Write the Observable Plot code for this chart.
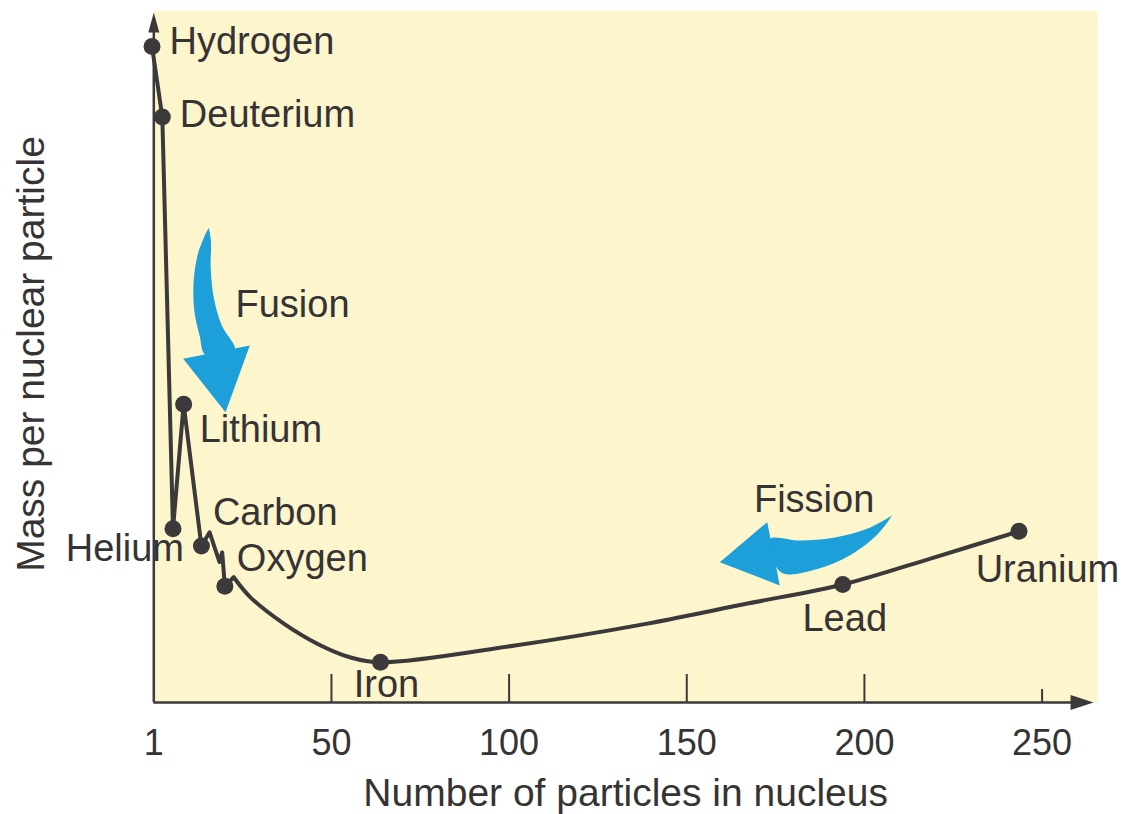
<!DOCTYPE html>
<html>
<head>
<meta charset="utf-8">
<script src="https://cdn.jsdelivr.net/npm/d3@7"></script>
<script src="https://cdn.jsdelivr.net/npm/@observablehq/plot@0.6"></script>
<style>
  html, body { margin: 0; padding: 0; background: #ffffff; }
  #chart svg { display: block; }
</style>
</head>
<body>
<div id="chart"></div>
<script>
// ---------- data ----------
const elementNames   = ["Hydrogen", "Deuterium", "Helium", "Lithium", "Carbon", "Oxygen", "Iron", "Lead", "Uranium"];
const elementA       = [-0.5, 2.4, 5.4, 8.4, 13.4, 20.0, 63.8, 193.9, 243.5];
const elementMass    = [94.8, 84.6, 25.1, 43.1, 22.6, 16.8, 5.8, 17.05, 24.75];

// the jagged light-element part of the curve
const sharpPathA     = [-0.5, 2.4, 5.4, 8.4, 13.4, 15.7, 18.5, 19.25, 20.0, 22.5];
const sharpPathMass  = [94.8, 84.6, 25.1, 43.1, 22.6, 24.6, 20.3, 21.7, 16.8, 18.1];
// the smooth part of the curve, from just past oxygen to uranium
const smoothPathA    = [22.5, 27.2, 36.6, 46.0, 55.4, 63.8, 101.2, 138.9, 167.1, 193.9, 218.6, 243.5];
const smoothPathMass = [18.1, 15.2, 11.4, 8.5, 6.5, 5.8, 8.2, 11.4, 14.3, 17.05, 20.8, 24.75];

const xTicks       = [0, 50, 100, 150, 200, 250];
const xTickLabels  = ["1", "50", "100", "150", "200", "250"];
const xLabel       = "Number of particles in nucleus";
const yLabel       = "Mass per nuclear particle";

const processNames = ["Fusion", "Fission"];
const processA     = [23.0, 168.9];
const processMass  = [55.7, 27.5];

// outlines of the two blue process arrows (data units)
const fusionBody = [[15.48,68.6],[16.1,66.6],[16.0,63.0],[16.9,58.4],[19.1,54.5],[22.8,50.9],
                    [14.6,50.2],[12.9,53.0],[11.4,56.6],[11.2,60.7],[12.3,64.6],[14.2,67.3],[15.48,68.6]];
const fusionHead = [[27.02,51.59],[20.18,41.95],[8.27,49.67]];
const fissionBody = [[207.82,27.02],[200.79,25.1],[191.3,23.8],[182.02,23.4],[173.3,23.6],
                     [176.6,18.8],[186.8,19.3],[196.09,21.3],[203.69,24.3],[207.82,27.02]];
const fissionHead = [[172.64,26.06],[159.3,20.27],[176.19,16.91]];

const xAxisEnd = 264.5;
const yAxisEnd = 99.7;

// ---------- styles ----------
const ink = "#3b393a";
const textInk = "#353334";
const paper = "#fdf5cc";
const blue = "#1d9fd9";

const labelStyle = {
  Hydrogen:  {anchor: "start",  dx: 17.5, dy: 8},
  Deuterium: {anchor: "start",  dx: 17.5, dy: 9.5},
  Helium:    {anchor: "end",    dx: 11,   dy: 32},
  Lithium:   {anchor: "start",  dx: 16,   dy: 37.5},
  Carbon:    {anchor: "start",  dx: 11.5, dy: -21.5},
  Oxygen:    {anchor: "start",  dx: 12,   dy: -15.5},
  Iron:      {anchor: "middle", dx: 6,    dy: 34.5},
  Lead:      {anchor: "middle", dx: 2,    dy: 46},
  Uranium:   {anchor: "middle", dx: 28.5, dy: 51}
};

// ---------- tables ----------
const elements = elementNames.map((name, i) => ({name, A: elementA[i], mass: elementMass[i]}));
const sharpPath = sharpPathA.map((A, i) => ({A, mass: sharpPathMass[i]}));
const smoothPath = smoothPathA.map((A, i) => ({A, mass: smoothPathMass[i]}));
const processes = processNames.map((name, i) => ({name, A: processA[i], mass: processMass[i]}));

const frameH = 814 - 10 - 112;

const headShape = (halfWidth) => ({
  draw(context, l) {
    context.moveTo(0, -l);
    context.lineTo(halfWidth, 0);
    context.lineTo(-halfWidth, 0);
    context.closePath();
  }
});

const labelMarks = elements.map(d => Plot.text([d], {
  x: "A", y: "mass", text: "name",
  textAnchor: labelStyle[d.name].anchor, lineAnchor: "bottom",
  dx: labelStyle[d.name].dx, dy: labelStyle[d.name].dy,
  fontSize: 38, fill: textInk
}));

const chart = Plot.plot({
  width: 1136,
  height: 814,
  marginLeft: 153.3,
  marginRight: 39,
  marginTop: 10,
  marginBottom: 112,
  x: {domain: [0, 265.6], axis: null},
  y: {domain: [0, 100], axis: null},
  style: {
    fontFamily: "'Liberation Sans', Arial, Helvetica, sans-serif",
    color: textInk,
    background: "#ffffff",
    overflow: "visible"
  },
  marks: [
    Plot.frame({fill: paper, stroke: "none"}),

    // tick marks pointing up into the plot
    Plot.ruleX(xTicks.filter(t => t > 0 && t < 250), {stroke: ink, strokeWidth: 2, insetTop: frameH - 28}),
    Plot.ruleX(xTicks.filter(t => t === 250), {stroke: ink, strokeWidth: 2, insetTop: frameH - 13}),

    // axis lines with arrowheads
    Plot.ruleY([0], {x1: 0, x2: xAxisEnd - 2, stroke: ink, strokeWidth: 2.5}),
    Plot.ruleX([0], {y1: 0, y2: yAxisEnd - 1, stroke: ink, strokeWidth: 2.5}),
    Plot.vector([{A: xAxisEnd, mass: 0}], {x: "A", y: "mass", rotate: 90, length: 23, anchor: "end",
      shape: headShape(7.5), fill: ink, stroke: "none"}),
    Plot.vector([{A: 0, mass: yAxisEnd}], {x: "A", y: "mass", rotate: 0, length: 20, anchor: "end",
      shape: headShape(5.5), fill: ink, stroke: "none"}),

    // tick labels
    Plot.axisX({ticks: xTicks, tickSize: 0, tickPadding: 27, fontSize: 36, label: null,
      tickFormat: d => xTickLabels[xTicks.indexOf(d)], fill: textInk}),

    // axis titles
    Plot.text([xLabel], {frameAnchor: "bottom", dy: 103, lineAnchor: "bottom", fontSize: 39, fill: textInk}),
    Plot.text([yLabel], {frameAnchor: "left", textAnchor: "middle", rotate: -90, dx: -110, dy: -2.5,
      lineAnchor: "bottom", fontSize: 39, fill: textInk}),

    // blue process arrows
    Plot.line(fusionBody, {x: d => d[0], y: d => d[1], curve: "catmull-rom", fill: blue, stroke: "none"}),
    Plot.line(fusionHead, {x: d => d[0], y: d => d[1], curve: "linear", fill: blue, stroke: "none"}),
    Plot.line(fissionBody, {x: d => d[0], y: d => d[1], curve: "catmull-rom", fill: blue, stroke: "none"}),
    Plot.line(fissionHead, {x: d => d[0], y: d => d[1], curve: "linear", fill: blue, stroke: "none"}),
    Plot.text(processes, {x: "A", y: "mass", text: "name", textAnchor: "start", lineAnchor: "bottom",
      fontSize: 38, fill: textInk}),

    // the curve
    Plot.line(sharpPath, {x: "A", y: "mass", curve: "linear", stroke: ink, strokeWidth: 4, strokeLinejoin: "round"}),
    Plot.line(smoothPath, {x: "A", y: "mass", curve: "catmull-rom", stroke: ink, strokeWidth: 4, strokeLinejoin: "round"}),
    Plot.dot(elements, {x: "A", y: "mass", r: 8.5, fill: ink, stroke: "none"}),

    ...labelMarks
  ]
});

document.getElementById("chart").appendChild(chart);
</script>
</body>
</html>
